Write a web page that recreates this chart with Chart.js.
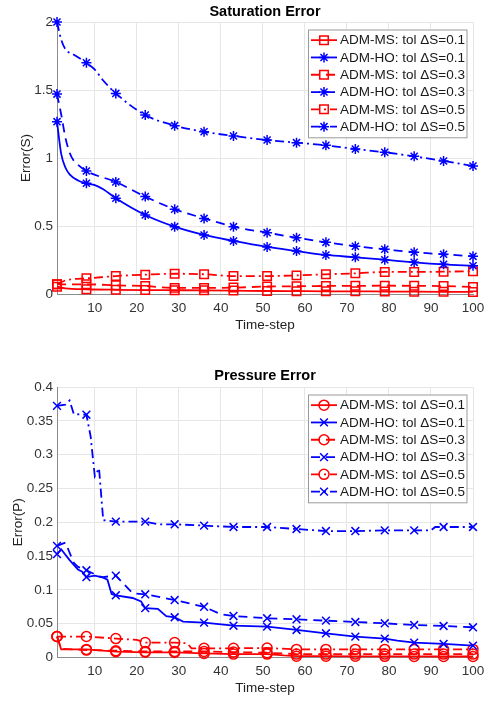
<!DOCTYPE html>
<html>
<head>
<meta charset="utf-8">
<script src="https://cdn.jsdelivr.net/npm/chart.js@4.4.1/dist/chart.umd.min.js"></script>
<style>
  body { margin: 0; background: #fff; width: 494px; height: 702px; overflow: hidden; }
  canvas { position: absolute; left: 0; }
  #satCanvas { top: 0; }
  #presCanvas { top: 352px; }
</style>
</head>
<body>
<canvas id="satCanvas" width="494" height="340"></canvas>
<canvas id="presCanvas" width="494" height="350"></canvas>
<script>
// ---------- shared ----------
const markerSteps = [1, 8, 15, 22, 29, 36, 43, 51, 58, 65, 72, 79, 86, 93, 100];
const xTicks = [10, 20, 30, 40, 50, 60, 70, 80, 90, 100];
const legendLabels = [
  "ADM-MS: tol ΔS=0.1", "ADM-HO: tol ΔS=0.1",
  "ADM-MS: tol ΔS=0.3", "ADM-HO: tol ΔS=0.3",
  "ADM-MS: tol ΔS=0.5", "ADM-HO: tol ΔS=0.5"
];

// ---------- Saturation Error ----------
const satYTicks = [0, 0.5, 1, 1.5, 2];

const satMS01_x = [1, 3, 8, 15, 22, 29, 36, 43, 51, 58, 65, 72, 79, 86, 93, 100];
const satMS01_y = [0.054, 0.042, 0.035, 0.031, 0.029, 0.028, 0.027, 0.025, 0.022, 0.021, 0.02, 0.02, 0.018, 0.017, 0.016, 0.015];

const satHO01_x = [1, 2, 3, 4, 6, 8, 10, 12, 15, 22, 29, 36, 43, 51, 58, 65, 72, 79, 86, 93, 100];
const satHO01_y = [1.267, 1.03, 0.93, 0.88, 0.835, 0.814, 0.8, 0.77, 0.704, 0.581, 0.495, 0.434, 0.39, 0.346, 0.316, 0.287, 0.27, 0.252, 0.233, 0.218, 0.208];

const satMS03_x = [1, 8, 15, 22, 29, 36, 43, 51, 58, 65, 72, 79, 86, 93, 100];
const satMS03_y = [0.071, 0.071, 0.064, 0.058, 0.045, 0.045, 0.047, 0.055, 0.057, 0.059, 0.06, 0.061, 0.06, 0.058, 0.052];

const satHO03_x = [1, 2, 3, 4, 5, 6, 8, 15, 22, 29, 36, 43, 51, 58, 65, 72, 79, 86, 93, 100];
const satHO03_y = [1.47, 1.32, 1.15, 1.04, 0.98, 0.95, 0.904, 0.824, 0.716, 0.623, 0.556, 0.495, 0.451, 0.414, 0.38, 0.351, 0.329, 0.307, 0.292, 0.277];

const satMS05_x = [1, 3, 5, 8, 15, 22, 29, 36, 43, 51, 58, 65, 72, 79, 86, 93, 100];
const satMS05_y = [0.071, 0.1, 0.11, 0.115, 0.132, 0.142, 0.149, 0.145, 0.132, 0.132, 0.137, 0.145, 0.152, 0.162, 0.162, 0.164, 0.168];

const satHO05_x = [1, 2, 3, 5, 8, 10, 12, 15, 22, 29, 36, 43, 51, 58, 65, 72, 79, 86, 93, 100];
const satHO05_y = [2.0, 1.87, 1.8, 1.76, 1.7, 1.65, 1.57, 1.475, 1.316, 1.238, 1.193, 1.162, 1.132, 1.113, 1.093, 1.066, 1.042, 1.012, 0.978, 0.941];

// ---------- Pressure Error ----------
const presYTicks = [0, 0.05, 0.1, 0.15, 0.2, 0.25, 0.3, 0.35, 0.4];

const presMS01_x = [1, 2, 8, 15, 22, 29, 36, 43, 51, 55, 58, 65, 72, 79, 86, 93, 100];
const presMS01_y = [0.031, 0.012, 0.012, 0.0086, 0.0077, 0.0075, 0.006, 0.005, 0.005, 0.003, 0.002, 0.002, 0.0018, 0.0017, 0.0016, 0.0015, 0.0015];

const presHO01_x = [1, 2, 4, 6, 7, 8, 10, 12, 13, 14, 15, 19, 21, 22, 25, 27, 29, 31, 36, 43, 51, 58, 65, 72, 79, 82, 86, 93, 100];
const presHO01_y = [0.153, 0.16, 0.144, 0.13, 0.127, 0.119, 0.121, 0.118, 0.115, 0.094, 0.092, 0.088, 0.083, 0.073, 0.072, 0.061, 0.0595, 0.053, 0.0515, 0.047, 0.0456, 0.0407, 0.0358, 0.0308, 0.0278, 0.025, 0.022, 0.02, 0.0175];

const presMS03_x = [1, 2, 8, 15, 22, 29, 36, 43, 51, 58, 65, 72, 79, 86, 93, 100];
const presMS03_y = [0.031, 0.013, 0.011, 0.01, 0.009, 0.009, 0.009, 0.008, 0.007, 0.005, 0.005, 0.005, 0.005, 0.005, 0.005, 0.005];

const presHO03_x = [1, 3, 5, 6, 8, 11, 12, 15, 17, 19, 22, 29, 36, 40, 43, 51, 58, 65, 72, 79, 86, 93, 100];
const presHO03_y = [0.165, 0.17, 0.14, 0.134, 0.129, 0.12, 0.119, 0.121, 0.108, 0.095, 0.0935, 0.085, 0.075, 0.064, 0.0614, 0.058, 0.0565, 0.0545, 0.0525, 0.0506, 0.048, 0.0466, 0.0447];

const presMS05_x = [1, 8, 15, 20, 22, 29, 32, 33, 36, 43, 51, 58, 65, 72, 79, 86, 93, 100];
const presMS05_y = [0.031, 0.031, 0.028, 0.026, 0.022, 0.022, 0.021, 0.0136, 0.0136, 0.0136, 0.014, 0.012, 0.012, 0.012, 0.012, 0.012, 0.012, 0.012];

const presHO05_x = [1, 3, 4, 5, 8, 9, 10, 11, 12, 15, 22, 25, 29, 36, 43, 51, 58, 65, 72, 79, 86, 90, 91, 93, 100];
const presHO05_y = [0.372, 0.374, 0.38, 0.36, 0.359, 0.327, 0.268, 0.28, 0.203, 0.201, 0.201, 0.197, 0.197, 0.195, 0.193, 0.193, 0.19, 0.187, 0.187, 0.188, 0.188, 0.188, 0.193, 0.193, 0.193];

// ---------- styles ----------
const RED = "#ff0000";
const BLUE = "#0000ff";
const SOLID = [];
const DASHED = [9, 6];
const DASHDOT = [9, 4, 2, 4];
const FONT = "'Liberation Sans', Arial, sans-serif";

function series(label, xs, ys, color, dash, style, radius, smooth) {
  return {
    label,
    data: xs.map((x, i) => ({ x, y: ys[i] })),
    borderColor: color,
    backgroundColor: "transparent",
    borderWidth: 1.8,
    borderDash: dash,
    pointStyle: style,
    pointBorderColor: color,
    pointBackgroundColor: "transparent",
    pointBorderWidth: 1.5,
    pointRadius: ctx => (ctx.raw && markerSteps.includes(ctx.raw.x) ? radius : 0),
    cubicInterpolationMode: smooth ? "monotone" : "default",
    tension: 0,
    clip: false
  };
}

// legend in MATLAB style: box, line sample + marker, label
const boxLegend = {
  id: "boxLegend",
  afterDraw(chart) {
    const { ctx, chartArea } = chart;
    const rowH = 17.3, w = 158.5, h = 6 * rowH + 4;
    const left = chartArea.right - 6.5 - w;
    const top = chartArea.top + 7.5;
    ctx.save();
    ctx.fillStyle = "#fff";
    ctx.fillRect(left, top, w, h);
    ctx.strokeStyle = "#9a9a9a";
    ctx.lineWidth = 1;
    ctx.strokeRect(left + 0.5, top + 0.5, w, h);
    chart.data.datasets.forEach((ds, i) => {
      const cy = top + 2 + rowH * (i + 0.5);
      ctx.strokeStyle = ds.borderColor;
      ctx.lineWidth = ds.borderWidth;
      ctx.setLineDash(ds.borderDash);
      ctx.beginPath();
      ctx.moveTo(left + 3, cy);
      ctx.lineTo(left + 29, cy);
      ctx.stroke();
      ctx.setLineDash([]);
      ctx.fillStyle = "rgba(0,0,0,0)";
      ctx.lineWidth = ds.pointBorderWidth;
      Chart.helpers.drawPoint(ctx, {
        pointStyle: ds.pointStyle,
        radius: chart.options.plugins.boxLegend.radius[i],
        rotation: 0,
        borderWidth: ds.pointBorderWidth
      }, left + 16, cy);
      ctx.fillStyle = "#1a1a1a";
      ctx.font = "13.5px " + FONT;
      ctx.textBaseline = "middle";
      ctx.textAlign = "left";
      ctx.fillText(ds.label, left + 32, cy + 0.5);
    });
    ctx.restore();
  }
};

function makeOptions(title, yTitle, yTicks, yMax, titlePad, yTitlePad, xAxisH, xTitlePad, radii) {
  return {
    responsive: false,
    devicePixelRatio: 1,
    animation: false,
    events: [],
    layout: { padding: { left: 0, right: 21, top: 0, bottom: 0 } },
    plugins: {
      legend: { display: false },
      tooltip: { enabled: false },
      title: {
        display: true, text: title, color: "#000", fullSize: false,
        font: { family: FONT, size: 14.5, weight: "bold" },
        padding: titlePad
      },
      boxLegend: { radius: radii }
    },
    scales: {
      x: {
        type: "linear", min: 1, max: 100,
        afterBuildTicks: s => { s.ticks = xTicks.map(v => ({ value: v })); },
        afterFit: s => { s.height = xAxisH; },
        ticks: { color: "#333", font: { family: FONT, size: 13.5 }, padding: 6, maxRotation: 0, callback: v => String(v) },
        grid: { color: "#e6e6e6", drawTicks: false },
        border: { display: true, color: "#8c8c8c", width: 1 },
        title: { display: true, text: "Time-step", color: "#222", font: { family: FONT, size: 13.5 }, padding: { top: 0, bottom: xTitlePad } }
      },
      y: {
        type: "linear", min: 0, max: yMax,
        afterBuildTicks: s => { s.ticks = yTicks.map(v => ({ value: v })); },
        afterFit: s => { s.width = 57; },
        ticks: { color: "#333", font: { family: FONT, size: 13.5 }, padding: 4, callback: v => String(v) },
        grid: { color: "#e6e6e6", drawTicks: false },
        border: { display: true, color: "#8c8c8c", width: 1 },
        title: { display: true, text: yTitle, color: "#222", font: { family: FONT, size: 13.5 }, padding: { top: yTitlePad, bottom: 0 } }
      }
    }
  };
}

// ---------- build charts ----------
new Chart(document.getElementById("satCanvas"), {
  type: "line",
  data: {
    datasets: [
      series(legendLabels[0], satMS01_x, satMS01_y, RED, SOLID, "rect", 6, true),
      series(legendLabels[1], satHO01_x, satHO01_y, BLUE, SOLID, "star", 5, true),
      series(legendLabels[2], satMS03_x, satMS03_y, RED, DASHED, "rect", 6, true),
      series(legendLabels[3], satHO03_x, satHO03_y, BLUE, DASHED, "star", 5, true),
      series(legendLabels[4], satMS05_x, satMS05_y, RED, DASHDOT, "rect", 6, true),
      series(legendLabels[5], satHO05_x, satHO05_y, BLUE, DASHDOT, "star", 5, true)
    ]
  },
  options: makeOptions("Saturation Error", "Error(S)", satYTicks, 2,
    { top: 3, bottom: 1.6 }, 18, 46, 7, [6, 5, 6, 5, 6, 5]),
  plugins: [boxLegend]
});

new Chart(document.getElementById("presCanvas"), {
  type: "line",
  data: {
    datasets: [
      series(legendLabels[0], presMS01_x, presMS01_y, RED, SOLID, "circle", 5, false),
      series(legendLabels[1], presHO01_x, presHO01_y, BLUE, SOLID, "crossRot", 5.5, false),
      series(legendLabels[2], presMS03_x, presMS03_y, RED, DASHED, "circle", 5, false),
      series(legendLabels[3], presHO03_x, presHO03_y, BLUE, DASHED, "crossRot", 5.5, false),
      series(legendLabels[4], presMS05_x, presMS05_y, RED, DASHDOT, "circle", 5, false),
      series(legendLabels[5], presHO05_x, presHO05_y, BLUE, DASHDOT, "crossRot", 5.5, false)
    ]
  },
  options: makeOptions("Pressure Error", "Error(P)", presYTicks, 0.4,
    { top: 15, bottom: 2.6 }, 10, 44.5, 6, [5, 5.5, 5, 5.5, 5, 5.5]),
  plugins: [boxLegend]
});
</script>
</body>
</html>
